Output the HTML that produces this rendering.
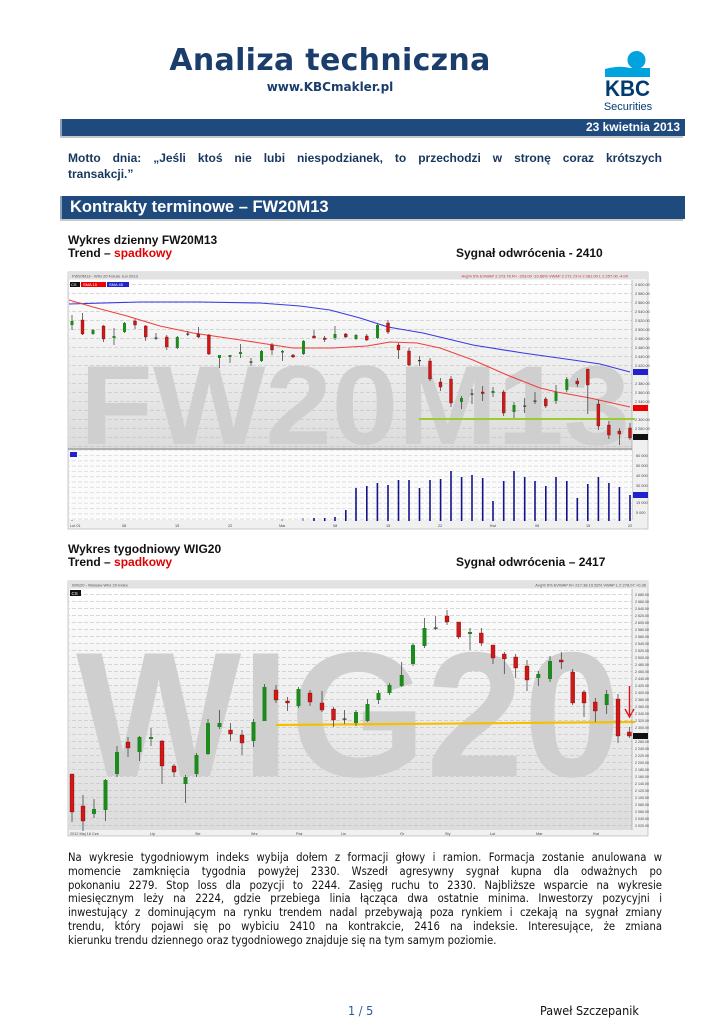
<!DOCTYPE html>
<html><head><meta charset="utf-8">
<style>
body{margin:0;background:#fff;}
#p{position:relative;width:724px;height:1024px;overflow:hidden;font-family:"Liberation Sans",sans-serif;}
.a{position:absolute;white-space:nowrap;}
.j{position:absolute;left:68px;width:594px;text-align:justify;text-align-last:justify;white-space:nowrap;}
</style></head><body><div id="p">
<div class="a" style="left:0;width:660px;text-align:center;top:43px;font-size:30px;font-weight:bold;color:#1a3d6c;font-family:'DejaVu Sans',sans-serif;letter-spacing:0.3px;">Analiza techniczna</div>
<div class="a" style="left:0;width:660px;text-align:center;top:80px;font-size:12px;font-weight:bold;color:#1a3d6c;font-family:'DejaVu Sans',sans-serif;">www.KBCmakler.pl</div>
<svg class="a" style="left:600px;top:48px" width="60" height="66">
<circle cx="36.5" cy="12" r="9" fill="#00a3dd"/>
<path d="M5 21 Q20 17 30 20 L50 20 L50 29 L5 29 Z" fill="#00a3dd"/>
<text x="27.5" y="48" text-anchor="middle" font-family="Liberation Sans" font-weight="bold" font-size="22" fill="#003b71" textLength="45" lengthAdjust="spacingAndGlyphs">KBC</text>
<text x="28" y="62" text-anchor="middle" font-family="Liberation Sans" font-size="11" fill="#003b71">Securities</text>
</svg>
<div class="a" style="left:60px;top:119px;width:623px;height:17px;background:#1f4a7d;border-left:2px solid #8aa0bb;"></div>
<div class="a" style="left:60px;top:136px;width:623px;height:2px;background:#c8c8c8;"></div>
<div class="a" style="right:44px;top:120px;font-size:12px;font-weight:bold;color:#fff;">23 kwietnia 2013</div>
<div class="j" style="top:151px;font-size:12px;font-weight:bold;color:#17375e;">Motto dnia: „Jeśli ktoś nie lubi niespodzianek, to przechodzi w stronę coraz krótszych</div>
<div class="a" style="left:68px;top:167px;font-size:12px;font-weight:bold;color:#17375e;">transakcji.”</div>
<div class="a" style="left:60px;top:196px;width:623px;height:23px;background:#1f4a7d;border-left:2px solid #8aa0bb;"></div>
<div class="a" style="left:60px;top:219px;width:623px;height:2px;background:#c8c8c8;"></div>
<div class="a" style="left:70px;top:198px;font-size:16.5px;font-weight:bold;color:#fff;">Kontrakty terminowe – FW20M13</div>

<div class="a" style="left:68px;top:233px;font-size:12px;font-weight:bold;color:#111;">Wykres dzienny FW20M13</div>
<div class="a" style="left:68px;top:246px;font-size:12px;font-weight:bold;color:#111;">Trend – <span style="color:#e00000">spadkowy</span></div>
<div class="a" style="left:456px;top:246px;font-size:12px;font-weight:bold;color:#111;">Sygnał odwrócenia - 2410</div>

<svg class="a" style="left:0;top:0" width="724" height="1024">
<defs>
<linearGradient id="bg" x1="0" y1="0" x2="0" y2="1"><stop offset="0" stop-color="#fff"/><stop offset="1" stop-color="#dcdcdc"/></linearGradient>
<pattern id="g9" width="6" height="9" patternUnits="userSpaceOnUse" y="284"><line x1="0" y1="0.5" x2="4" y2="0.5" stroke="#c0c0c0" stroke-width="0.6"/></pattern>
<pattern id="g7" width="6" height="7" patternUnits="userSpaceOnUse" y="594"><line x1="0" y1="0.5" x2="4" y2="0.5" stroke="#c0c0c0" stroke-width="0.6"/></pattern>
<pattern id="g5" width="6" height="5.3" patternUnits="userSpaceOnUse" y="455"><line x1="0" y1="0.5" x2="4" y2="0.5" stroke="#c4c4c4" stroke-width="0.5"/></pattern>
</defs>
<!-- CHART 1 -->
<rect x="68" y="272" width="580" height="257" fill="#f0f0f0" stroke="#aaa" stroke-width="0.6"/>
<rect x="68" y="272" width="580" height="7" fill="#e2e2e2"/>
<text x="72" y="277.5" font-size="4" fill="#555" font-family="Liberation Sans">FW20M13 - WIG 20 Future Jun 2013</text>
<text x="628" y="277.5" font-size="4" fill="#c33" text-anchor="end" font-family="Liberation Sans">Avg% 5% EVWAP 2 273.76 R+ -203.00 -10.86% VWAP 2 271.73 H 2 281.00 L 2 257.00 -4.00</text>
<rect x="69" y="280" width="563" height="168" fill="url(#bg)"/>
<rect x="69" y="280" width="563" height="168" fill="url(#g9)"/>
<text x="80" y="444" font-size="112" font-weight="bold" fill="#cfcfcf" font-family="Liberation Sans" textLength="550" lengthAdjust="spacingAndGlyphs">FW20M13</text>
<rect x="70" y="282" width="10" height="5" fill="#111"/><text x="71" y="286" font-size="4" fill="#fff">CS</text>
<rect x="81" y="282" width="25" height="5" fill="#e00"/><text x="83" y="286" font-size="4" fill="#fff">SMA 15</text>
<rect x="107" y="282" width="22" height="5" fill="#22c"/><text x="109" y="286" font-size="4" fill="#fff">SMA 45</text>
<polyline fill="none" stroke="#3a3ae0" stroke-width="1.1" points="69,304 140,302 200,302 260,303 300,306 330,310 360,318 388,327 423,333 473,345 523,353 573,360 600,364 630,372"/>
<polyline fill="none" stroke="#f04040" stroke-width="1.1" points="69,300 93,307 127,316 160,326 193,333 227,338 260,343 293,348 333,348 367,346 390,342 417,343 440,348 473,360 507,375 540,388 557,392 590,398 630,407"/>
<line x1="419" y1="419" x2="635" y2="419" stroke="#9acd32" stroke-width="2"/>
<g stroke="#333" stroke-width="0.7">
<line x1="72" y1="315" x2="72" y2="330"/><line x1="82.5" y1="313" x2="82.5" y2="335"/><line x1="93" y1="329" x2="93" y2="335"/><line x1="103.6" y1="325" x2="103.6" y2="342"/><line x1="114" y1="328" x2="114" y2="345"/><line x1="124.6" y1="322" x2="124.6" y2="333"/><line x1="135" y1="319" x2="135" y2="329"/><line x1="145.7" y1="325" x2="145.7" y2="341"/><line x1="156" y1="333" x2="156" y2="340"/><line x1="166.8" y1="335" x2="166.8" y2="350"/><line x1="177.3" y1="336" x2="177.3" y2="349"/><line x1="187.8" y1="331" x2="187.8" y2="336"/><line x1="198.4" y1="327" x2="198.4" y2="338"/><line x1="208.9" y1="334" x2="208.9" y2="355"/><line x1="219.4" y1="355" x2="219.4" y2="368"/><line x1="230" y1="355" x2="230" y2="363"/><line x1="240.5" y1="344" x2="240.5" y2="358"/><line x1="251" y1="358" x2="251" y2="366"/><line x1="261.5" y1="350" x2="261.5" y2="362"/><line x1="272" y1="343" x2="272" y2="355"/><line x1="282.6" y1="350" x2="282.6" y2="361"/><line x1="293" y1="354" x2="293" y2="358"/><line x1="303.7" y1="340" x2="303.7" y2="355"/><line x1="314" y1="330" x2="314" y2="338"/><line x1="324.7" y1="336" x2="324.7" y2="342"/><line x1="335" y1="326" x2="335" y2="340"/><line x1="345.8" y1="333" x2="345.8" y2="338"/><line x1="356" y1="334" x2="356" y2="340"/><line x1="366.8" y1="334" x2="366.8" y2="341"/><line x1="377.4" y1="324" x2="377.4" y2="339"/><line x1="388" y1="320" x2="388" y2="334"/>
<line x1="398.5" y1="343" x2="398.5" y2="359"/><line x1="409" y1="348" x2="409" y2="366"/><line x1="419.5" y1="356" x2="419.5" y2="366"/><line x1="430" y1="358" x2="430" y2="381"/><line x1="440.6" y1="378" x2="440.6" y2="391"/><line x1="451" y1="376" x2="451" y2="407"/><line x1="461.6" y1="396" x2="461.6" y2="409"/><line x1="472" y1="389" x2="472" y2="404"/><line x1="482.7" y1="386" x2="482.7" y2="401"/><line x1="493" y1="387" x2="493" y2="397"/><line x1="503.7" y1="390" x2="503.7" y2="416"/><line x1="514" y1="402" x2="514" y2="418"/><line x1="524.7" y1="398" x2="524.7" y2="413"/><line x1="535" y1="392" x2="535" y2="404"/><line x1="545.8" y1="397" x2="545.8" y2="408"/><line x1="556" y1="385" x2="556" y2="404"/><line x1="566.8" y1="377" x2="566.8" y2="392"/><line x1="577.3" y1="378" x2="577.3" y2="387"/><line x1="587.8" y1="381" x2="587.8" y2="414"/><line x1="598.4" y1="400" x2="598.4" y2="430"/><line x1="608.9" y1="421" x2="608.9" y2="439"/><line x1="619.4" y1="428" x2="619.4" y2="445"/><line x1="630" y1="423" x2="630" y2="440"/>
</g>
<g fill="#1c8a1c"><rect x="70.5" y="321" width="3" height="4"/><rect x="91.5" y="330" width="3" height="4"/><rect x="112.5" y="336" width="3" height="2"/><rect x="123" y="323" width="3" height="9"/><rect x="175.8" y="337" width="3" height="11"/><rect x="218" y="355" width="3" height="3"/><rect x="228.5" y="355" width="3" height="2"/><rect x="239" y="352" width="3" height="2"/><rect x="260" y="351" width="3" height="10"/><rect x="281" y="351" width="3" height="1.5"/><rect x="302" y="341" width="3" height="13"/><rect x="333.5" y="334" width="3" height="4"/><rect x="354.5" y="335" width="3" height="4"/><rect x="376" y="325" width="3" height="13"/><rect x="460" y="398" width="3" height="4"/><rect x="491.5" y="391" width="3" height="2"/><rect x="512.5" y="405" width="3" height="7"/><rect x="554.5" y="392" width="3" height="9"/><rect x="565.3" y="379" width="3" height="11"/></g>
<g fill="#d01818" stroke="#600" stroke-width="0.3"><rect x="81" y="320" width="3" height="14"/><rect x="102" y="326" width="3" height="13"/><rect x="133.5" y="321" width="3" height="4"/><rect x="144.2" y="326" width="3" height="11"/><rect x="165.3" y="337" width="3" height="10"/><rect x="196.9" y="334" width="3" height="3"/><rect x="207.4" y="335" width="3" height="19"/><rect x="270.5" y="345" width="3" height="5"/><rect x="291.5" y="355" width="3" height="2"/><rect x="312.5" y="336" width="3" height="2"/><rect x="323.2" y="338" width="3" height="1.5"/><rect x="344.3" y="334" width="3" height="3"/><rect x="365.3" y="336" width="3" height="4"/><rect x="386.5" y="323" width="3" height="9"/><rect x="397" y="345" width="3" height="5"/><rect x="407.5" y="351" width="3" height="14"/><rect x="428.5" y="361" width="3" height="18"/><rect x="439" y="382" width="3" height="5"/><rect x="449.5" y="379" width="3" height="24"/><rect x="481.2" y="392" width="3" height="1.5"/><rect x="502.2" y="392" width="3" height="21"/><rect x="544.3" y="399" width="3" height="7"/><rect x="575.8" y="381" width="3" height="3"/><rect x="586.3" y="369" width="3" height="16"/><rect x="596.9" y="404" width="3" height="22"/><rect x="607.4" y="425" width="3" height="10"/><rect x="617.9" y="431" width="3" height="3"/><rect x="628.5" y="428" width="3" height="10"/></g>
<g fill="#333"><rect x="154.5" y="337.5" width="3" height="1.2"/><rect x="186.3" y="333.5" width="3" height="1.2"/><rect x="249.5" y="361.5" width="3" height="1.2"/><rect x="418" y="360" width="3" height="1.2"/><rect x="470.5" y="393.5" width="3" height="1.2"/><rect x="523.2" y="405.5" width="3" height="1.2"/><rect x="533.5" y="400.5" width="3" height="1.2"/></g>
<line x1="632" y1="280" x2="632" y2="520" stroke="#999" stroke-width="0.6"/>
<g font-size="3.8" fill="#444" font-family="Liberation Sans">
<text x="635" y="286">2 600.00</text><text x="635" y="295">2 580.00</text><text x="635" y="304">2 560.00</text><text x="635" y="313">2 540.00</text><text x="635" y="322">2 520.00</text><text x="635" y="331">2 500.00</text><text x="635" y="340">2 480.00</text><text x="635" y="349">2 460.00</text><text x="635" y="358">2 440.00</text><text x="635" y="367">2 420.00</text><text x="635" y="385">2 380.00</text><text x="635" y="394">2 360.00</text><text x="635" y="403">2 340.00</text><text x="635" y="421">2 300.00</text><text x="635" y="430">2 280.00</text>
</g>
<rect x="633" y="369" width="15" height="6" fill="#22c"/><rect x="633" y="405" width="15" height="6" fill="#e00"/><rect x="633" y="434" width="15" height="6" fill="#111"/>
<line x1="68" y1="449" x2="632" y2="449" stroke="#999" stroke-width="1.5"/>
<rect x="69" y="450" width="563" height="70" fill="#fbfbfb"/>
<rect x="69" y="450" width="563" height="70" fill="url(#g5)"/>
<rect x="70" y="452" width="7" height="5" fill="#22c"/>
<g stroke="#14148a" stroke-width="1.6">
<line x1="314" y1="521" x2="314" y2="518"/><line x1="324.7" y1="521" x2="324.7" y2="518"/><line x1="335" y1="521" x2="335" y2="517"/><line x1="345.8" y1="521" x2="345.8" y2="510"/><line x1="356" y1="521" x2="356" y2="488"/><line x1="366.8" y1="521" x2="366.8" y2="486"/><line x1="377.4" y1="521" x2="377.4" y2="483"/><line x1="388" y1="521" x2="388" y2="485"/>
<line x1="398.5" y1="521" x2="398.5" y2="480"/><line x1="409" y1="521" x2="409" y2="480"/><line x1="419.5" y1="521" x2="419.5" y2="488"/><line x1="430" y1="521" x2="430" y2="480"/><line x1="440.6" y1="521" x2="440.6" y2="479"/><line x1="451" y1="521" x2="451" y2="471"/><line x1="461.6" y1="521" x2="461.6" y2="477"/><line x1="472" y1="521" x2="472" y2="475"/><line x1="482.7" y1="521" x2="482.7" y2="478"/><line x1="493" y1="521" x2="493" y2="501"/><line x1="503.7" y1="521" x2="503.7" y2="481"/><line x1="514" y1="521" x2="514" y2="471"/><line x1="524.7" y1="521" x2="524.7" y2="477"/><line x1="535" y1="521" x2="535" y2="481"/><line x1="545.8" y1="521" x2="545.8" y2="486"/><line x1="556" y1="521" x2="556" y2="477"/><line x1="566.8" y1="521" x2="566.8" y2="481"/><line x1="577.3" y1="521" x2="577.3" y2="498"/><line x1="587.8" y1="521" x2="587.8" y2="484"/><line x1="598.4" y1="521" x2="598.4" y2="477"/><line x1="608.9" y1="521" x2="608.9" y2="483"/><line x1="619.4" y1="521" x2="619.4" y2="487"/><line x1="630" y1="521" x2="630" y2="495"/>
</g>
<g stroke="#14148a" stroke-width="1" opacity="0.6"><line x1="72" y1="521" x2="72" y2="520"/><line x1="282" y1="521" x2="282" y2="519"/><line x1="303" y1="521" x2="303" y2="518"/></g>
<rect x="633" y="492" width="15" height="6" fill="#22c"/>
<g font-size="3.8" fill="#444" font-family="Liberation Sans"><text x="636" y="457">60 000</text><text x="636" y="467">50 000</text><text x="636" y="477">40 000</text><text x="636" y="487">30 000</text><text x="636" y="504">15 000</text><text x="636" y="514">5 000</text></g>
<g font-size="3.8" fill="#444" font-family="Liberation Sans"><text x="70" y="527">Lut 01</text><text x="122" y="527">08</text><text x="175" y="527">15</text><text x="228" y="527">22</text><text x="279" y="527">Mar</text><text x="333" y="527">08</text><text x="386" y="527">15</text><text x="438" y="527">22</text><text x="490" y="527">Kwi</text><text x="535" y="527">08</text><text x="586" y="527">15</text><text x="628" y="527">22</text></g>

<!-- CHART 2 -->
<rect x="68" y="581" width="580" height="255" fill="#f0f0f0" stroke="#aaa" stroke-width="0.6"/>
<rect x="68" y="581" width="580" height="7" fill="#e2e2e2"/>
<text x="72" y="586.5" font-size="4" fill="#555" font-family="Liberation Sans">WIG20 - Warsaw WIG 20 Index</text>
<text x="646" y="586.5" font-size="4" fill="#555" text-anchor="end" font-family="Liberation Sans">Avg% 5% EVWAP R+ 217.38 10.52% VWAP L 2 278.07 +0.36</text>
<rect x="69" y="589" width="563" height="241" fill="url(#bg)"/>
<rect x="69" y="589" width="563" height="241" fill="url(#g7)"/>
<text x="76" y="776" font-size="178" font-weight="bold" fill="#cfcfcf" font-family="Liberation Sans" textLength="545" lengthAdjust="spacingAndGlyphs">WIG20</text>
<rect x="70" y="590" width="11" height="6" fill="#111"/><text x="71.5" y="595" font-size="4.5" fill="#fff">CS</text>
<line x1="276" y1="725" x2="635" y2="722" stroke="#f5c000" stroke-width="2.2"/>
<g stroke="#333" stroke-width="0.7">
<line x1="72" y1="774" x2="72" y2="822"/><line x1="83" y1="795" x2="83" y2="831"/><line x1="94" y1="799" x2="94" y2="818"/><line x1="105.5" y1="779" x2="105.5" y2="821"/><line x1="117" y1="746" x2="117" y2="777"/><line x1="128" y1="737" x2="128" y2="757"/><line x1="139.5" y1="736" x2="139.5" y2="761"/><line x1="151" y1="728" x2="151" y2="746"/><line x1="162" y1="740" x2="162" y2="784"/><line x1="174" y1="764" x2="174" y2="777"/><line x1="185.5" y1="775" x2="185.5" y2="803"/><line x1="196.5" y1="753" x2="196.5" y2="777"/><line x1="208" y1="719" x2="208" y2="755"/><line x1="219.5" y1="710" x2="219.5" y2="729"/><line x1="230.5" y1="723" x2="230.5" y2="741"/><line x1="242" y1="730" x2="242" y2="755"/><line x1="253.5" y1="719" x2="253.5" y2="747"/><line x1="264.5" y1="684" x2="264.5" y2="721"/><line x1="276" y1="685" x2="276" y2="703"/><line x1="287.5" y1="697" x2="287.5" y2="711"/><line x1="298.5" y1="687" x2="298.5" y2="708"/><line x1="310" y1="690" x2="310" y2="706"/><line x1="322" y1="691" x2="322" y2="712"/><line x1="333.5" y1="707" x2="333.5" y2="727"/><line x1="344.5" y1="710" x2="344.5" y2="724"/><line x1="356" y1="710" x2="356" y2="726"/><line x1="367.5" y1="699" x2="367.5" y2="722"/><line x1="378.5" y1="690" x2="378.5" y2="704"/><line x1="389.5" y1="683" x2="389.5" y2="695"/>
<line x1="401.7" y1="662" x2="401.7" y2="687"/><line x1="413" y1="643" x2="413" y2="666"/><line x1="424.5" y1="618" x2="424.5" y2="648"/><line x1="435.7" y1="616" x2="435.7" y2="630"/><line x1="447" y1="610" x2="447" y2="625"/><line x1="458.7" y1="622" x2="458.7" y2="639"/><line x1="470" y1="628" x2="470" y2="650"/><line x1="481.3" y1="628" x2="481.3" y2="646"/><line x1="493" y1="645" x2="493" y2="664"/><line x1="504.3" y1="652" x2="504.3" y2="674"/><line x1="515.7" y1="654" x2="515.7" y2="678"/><line x1="527" y1="660" x2="527" y2="691"/><line x1="538.3" y1="671" x2="538.3" y2="686"/><line x1="550" y1="656" x2="550" y2="682"/><line x1="561.3" y1="652" x2="561.3" y2="669"/><line x1="572.7" y1="669" x2="572.7" y2="705"/><line x1="584" y1="690" x2="584" y2="717"/><line x1="595.3" y1="698" x2="595.3" y2="722"/><line x1="606.7" y1="690" x2="606.7" y2="714"/><line x1="618" y1="694" x2="618" y2="743"/><line x1="629.3" y1="727" x2="629.3" y2="738"/>
</g>
<g fill="#1c8a1c"><rect x="92" y="809" width="4" height="5"/><rect x="103.5" y="780" width="4" height="30"/><rect x="115" y="752" width="4" height="22"/><rect x="137.5" y="737" width="4" height="15"/><rect x="149" y="737" width="4" height="2"/><rect x="183.5" y="777" width="4" height="7"/><rect x="194.5" y="755" width="4" height="19"/><rect x="206" y="723" width="4" height="31"/><rect x="217.5" y="723" width="4" height="4"/><rect x="251.5" y="722" width="4" height="19"/><rect x="262.5" y="687" width="4" height="34"/><rect x="296.5" y="689" width="4" height="17"/><rect x="354" y="712" width="4" height="11"/><rect x="365.5" y="704" width="4" height="17"/><rect x="376.5" y="693" width="4" height="7"/><rect x="387.5" y="685" width="4" height="8"/><rect x="399.7" y="675" width="4" height="11"/><rect x="411" y="645" width="4" height="19"/><rect x="422.5" y="628" width="4" height="18"/><rect x="468" y="632" width="4" height="2"/><rect x="536.3" y="674" width="4" height="4"/><rect x="548" y="661" width="4" height="18"/><rect x="604.7" y="694" width="4" height="11"/></g>
<g fill="#d01818" stroke="#600" stroke-width="0.3"><rect x="70" y="774" width="4" height="38"/><rect x="81" y="806" width="4" height="15"/><rect x="126" y="742" width="4" height="6"/><rect x="160" y="741" width="4" height="25"/><rect x="172" y="766" width="4" height="6"/><rect x="228.5" y="730" width="4" height="4"/><rect x="240" y="735" width="4" height="8"/><rect x="274" y="690" width="4" height="10"/><rect x="285.5" y="701" width="4" height="2"/><rect x="308" y="693" width="4" height="9"/><rect x="320" y="703" width="4" height="7"/><rect x="331.5" y="709" width="4" height="11"/><rect x="445" y="616" width="4" height="6"/><rect x="456.7" y="622" width="4" height="15"/><rect x="479.3" y="633" width="4" height="10"/><rect x="491" y="645" width="4" height="13"/><rect x="502.3" y="654" width="4" height="5"/><rect x="513.7" y="657" width="4" height="11"/><rect x="525" y="666" width="4" height="14"/><rect x="559.3" y="660" width="4" height="2"/><rect x="570.7" y="672" width="4" height="31"/><rect x="582" y="692" width="4" height="11"/><rect x="593.3" y="702" width="4" height="9"/><rect x="616" y="699" width="4" height="37"/><rect x="627.3" y="732" width="4" height="4"/></g>
<g fill="#333"><rect x="342.5" y="718.5" width="4" height="1.2"/><rect x="433.7" y="627.5" width="4" height="1.2"/></g>
<line x1="629.5" y1="686" x2="629.5" y2="715" stroke="#e01010" stroke-width="1.4"/>
<polyline points="625,709 629.5,717 634,709" fill="none" stroke="#e01010" stroke-width="1.4"/>
<line x1="632" y1="589" x2="632" y2="830" stroke="#999" stroke-width="0.6"/>
<g font-size="3.6" fill="#444" font-family="Liberation Sans">
<text x="635" y="596">2 680.00</text><text x="635" y="603">2 660.00</text><text x="635" y="610">2 640.00</text><text x="635" y="617">2 620.00</text><text x="635" y="624">2 600.00</text><text x="635" y="631">2 580.00</text><text x="635" y="638">2 560.00</text><text x="635" y="645">2 540.00</text><text x="635" y="652">2 520.00</text><text x="635" y="659">2 500.00</text><text x="635" y="666">2 480.00</text><text x="635" y="673">2 460.00</text><text x="635" y="680">2 440.00</text><text x="635" y="687">2 420.00</text><text x="635" y="694">2 400.00</text><text x="635" y="701">2 380.00</text><text x="635" y="708">2 360.00</text><text x="635" y="715">2 340.00</text><text x="635" y="722">2 320.00</text><text x="635" y="729">2 300.00</text><text x="635" y="743">2 260.00</text><text x="635" y="750">2 240.00</text><text x="635" y="757">2 220.00</text><text x="635" y="764">2 200.00</text><text x="635" y="771">2 180.00</text><text x="635" y="778">2 160.00</text><text x="635" y="785">2 140.00</text><text x="635" y="792">2 120.00</text><text x="635" y="799">2 100.00</text><text x="635" y="806">2 080.00</text><text x="635" y="813">2 060.00</text><text x="635" y="820">2 040.00</text><text x="635" y="827">2 020.00</text>
</g>
<rect x="633" y="733" width="15" height="6" fill="#111"/>
<g font-size="3.8" fill="#444" font-family="Liberation Sans"><text x="70" y="835">2012 Maj 16 Cze</text><text x="150" y="835">Lip</text><text x="195" y="835">Sie</text><text x="251" y="835">Wrz</text><text x="296" y="835">Paź</text><text x="341" y="835">Lis</text><text x="400" y="835">Gr</text><text x="445" y="835">Sty</text><text x="490" y="835">Lut</text><text x="536" y="835">Mar</text><text x="593" y="835">Kwi</text></g>
</svg>

<div class="a" style="left:68px;top:542px;font-size:12px;font-weight:bold;color:#111;">Wykres tygodniowy WIG20</div>
<div class="a" style="left:68px;top:555px;font-size:12px;font-weight:bold;color:#111;">Trend – <span style="color:#e00000">spadkowy</span></div>
<div class="a" style="left:456px;top:555px;font-size:12px;font-weight:bold;color:#111;">Sygnał odwrócenia – 2417</div>

<div style="position:absolute;top:851px;left:0;font-size:11.2px;color:#111;line-height:13.8px;font-family:'DejaVu Sans Condensed','DejaVu Sans',sans-serif;">
<div class="j" style="position:relative;">Na wykresie tygodniowym indeks wybija dołem z formacji głowy i ramion. Formacja zostanie anulowana w</div>
<div class="j" style="position:relative;">momencie zamknięcia tygodnia powyżej 2330. Wszedł agresywny sygnał kupna dla odważnych po</div>
<div class="j" style="position:relative;">pokonaniu 2279. Stop loss dla pozycji to 2244. Zasięg ruchu to 2330. Najbliższe wsparcie na wykresie</div>
<div class="j" style="position:relative;">miesięcznym leży na 2224, gdzie przebiega linia łącząca dwa ostatnie minima. Inwestorzy pozycyjni i</div>
<div class="j" style="position:relative;">inwestujący z dominującym na rynku trendem nadal przebywają poza rynkiem i czekają na sygnał zmiany</div>
<div class="j" style="position:relative;">trendu, który pojawi się po wybiciu 2410 na kontrakcie, 2416 na indeksie. Interesujące, że zmiana</div>
<div style="position:relative;left:68px;white-space:nowrap;">kierunku trendu dziennego oraz tygodniowego znajduje się na tym samym poziomie.</div>
</div>
<div class="a" style="left:348px;top:1003px;font-size:12.5px;color:#2a5a9a;font-family:'DejaVu Sans Condensed','DejaVu Sans',sans-serif;">1 / 5</div>
<div class="a" style="left:540px;top:1003px;font-size:12.5px;color:#111;font-family:'DejaVu Sans Condensed','DejaVu Sans',sans-serif;">Paweł Szczepanik</div>
</div></body></html>
